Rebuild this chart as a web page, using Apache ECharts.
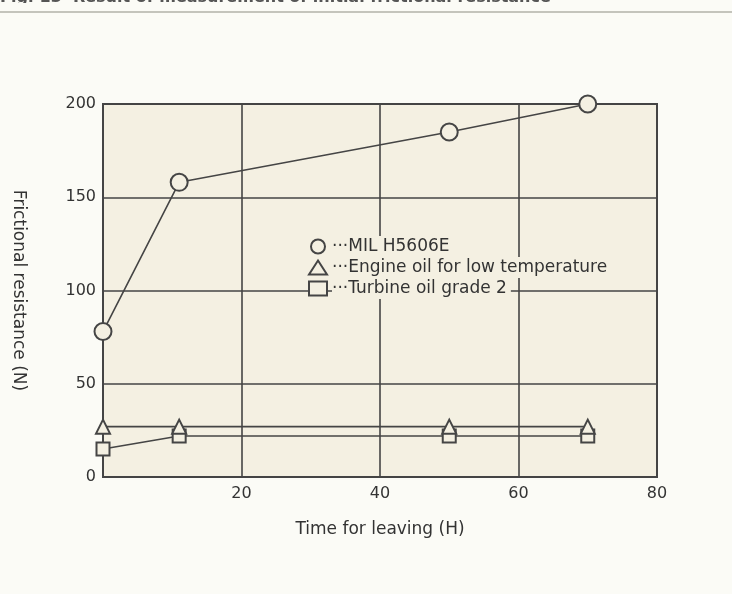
<!DOCTYPE html>
<html>
<head>
<meta charset="utf-8">
<script src="https://cdn.jsdelivr.net/npm/echarts@6/dist/echarts.min.js"></script>
<style>
html,body{margin:0;padding:0;background:#fbfbf6;}
#c{width:732px;height:594px;}
</style>
</head>
<body>
<div id="c"></div>
<script>
var xTicks = [0, 20, 40, 60, 80];
var yTicks = [0, 50, 100, 150, 200];
var seriesNames = ['···MIL H5606E', '···Engine oil for low temperature', '···Turbine oil grade 2'];
var timeH = [0, 11, 50, 70];
var milH5606E = [78, 158, 185, 200];
var engineOil = [27, 27, 27, 27];
var turbineOil = [15, 22, 22, 22];

var chart = echarts.init(document.getElementById('c'));
var bg = '#f4f0e2';
var lc = '#454545';
var ff = 'DejaVu Sans, Liberation Sans, Arial, sans-serif';
function pts(ys){ return timeH.map(function(x,i){ return [x, ys[i]]; }); }
var symbols = ['circle','triangle','rect'];
var sizes = [17, 14, 13];
var datas = [milH5606E, engineOil, turbineOil];
var series = seriesNames.map(function(n,i){
  return {
    name: n, type: 'line', data: pts(datas[i]),
    symbol: symbols[i], symbolSize: sizes[i], showSymbol: true,
    lineStyle: {color: lc, width: 1.6},
    itemStyle: {color: bg, borderColor: lc, borderWidth: 2},
    z: 10 - i
  };
});
chart.setOption({
  backgroundColor: '#fbfbf6',
  animation: false,
  textStyle: {fontFamily: ff},
  graphic: [
    {type: 'text', left: 0, top: -10, style: {text: 'Fig. 13  Result of measurement of initial frictional resistance', fill: '#555', font: 'bold 16px DejaVu Sans'}},
    {type: 'rect', shape: {x: 0, y: 3, width: 732, height: 12}, style: {fill: '#fbfbf6'}, z: 5},
    {type: 'line', shape: {x1: 0, y1: 12, x2: 732, y2: 12}, style: {stroke: '#c4c4bc', lineWidth: 2}, z: 6}
  ],
  grid: {left: 103, right: 75, top: 104, bottom: 117, show: true, backgroundColor: bg, borderColor: lc, borderWidth: 2},
  legend: {
    orient: 'vertical', left: 308, top: 236, itemGap: 0,
    padding: 0,
    itemWidth: 18, itemHeight: 14,
    data: seriesNames.map(function(n,i){ return {name: n, icon: symbols[i]}; }),
    textStyle: {color: '#333', fontSize: 17, fontFamily: ff, backgroundColor: bg, padding: [2, 4, 2, 0]},
    itemStyle: {color: bg, borderColor: lc, borderWidth: 2},
    lineStyle: {width: 0, opacity: 0}
  },
  xAxis: {
    type: 'value', min: 0, max: 80, interval: 20,
    name: 'Time for leaving (H)', nameLocation: 'middle', nameGap: 44,
    nameTextStyle: {fontSize: 17, color: '#333', fontFamily: ff},
    axisLine: {show: false}, axisTick: {show: false},
    axisLabel: {fontSize: 16, color: '#333', margin: 9, fontFamily: ff, formatter: function(v){ return xTicks.indexOf(v) > 0 ? String(v) : ''; }},
    splitLine: {show: true, lineStyle: {color: lc, width: 1.6}}
  },
  yAxis: {
    type: 'value', min: 0, max: 200, interval: 50,
    name: 'Frictional resistance (N)', nameLocation: 'middle', nameGap: 76, nameRotate: -90,
    nameTextStyle: {fontSize: 17, color: '#333', fontFamily: ff},
    axisLine: {show: false}, axisTick: {show: false},
    axisLabel: {fontSize: 16, color: '#333', margin: 7, fontFamily: ff, formatter: function(v){ return yTicks.indexOf(v) >= 0 ? String(v) : ''; }},
    splitLine: {show: true, lineStyle: {color: lc, width: 1.6}}
  },
  series: series
});
</script>
</body>
</html>
